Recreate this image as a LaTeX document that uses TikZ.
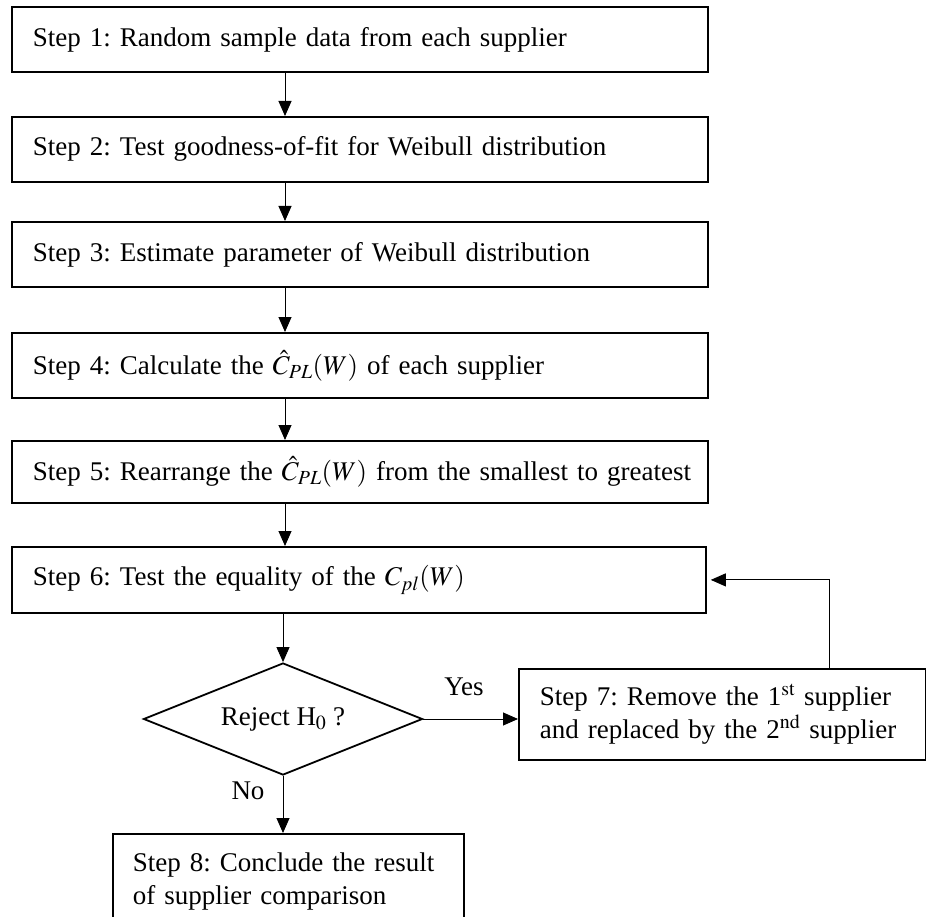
\documentclass[tikz,border=0pt]{standalone}
\usepackage{mathptmx}
\usepackage{fontspec}
\setmainfont{Liberation Serif}
\usetikzlibrary{shapes.geometric,arrows.meta}
\frenchspacing
\begin{document}
\begin{tikzpicture}[x=1pt,y=-1pt,
  every node/.style={font=\fontsize{27pt}{33pt}\selectfont\frenchspacing},
  stepbox/.style={draw,line width=1.8pt,anchor=north west,align=left,
    inner xsep=21pt,inner ysep=0pt,text width=654pt,minimum height=65pt},
  sidebox/.style={draw,line width=1.8pt,anchor=north west,align=left,
    inner xsep=20pt,inner ysep=0pt},
  decision/.style={diamond,draw,line width=1.8pt,inner sep=0pt,aspect=2.49,
    minimum width=279pt,minimum height=112pt},
  arr/.style={draw,line width=0.9pt,-{Triangle[length=15pt,width=13pt]}},
  lbl/.style={inner sep=0pt}]
\useasboundingbox (0,0) rectangle (926,917);
\clip (0,0) rectangle (926,917);
\fill[white] (0,0) rectangle (926,917);
\coordinate (ax) at (285,0);
\coordinate (fx) at (829,0);

\node[stepbox] (s1) at (11,6) {Step 1: Random sample data from each supplier};
\node[stepbox] (s2) at (11,116) {Step 2: Test goodness-of-fit for Weibull distribution};
\node[stepbox] (s3) at (11,221) {Step 3: Estimate parameter of Weibull distribution};
\node[stepbox] (s4) at (11,332) {Step 4: Calculate the $\hat{C}_{PL}(W)$ of each supplier};
\node[stepbox,minimum height=62pt] (s5) at (11,440) {\mbox{Step 5: Rearrange the $\hat{C}_{PL}(W)$ from the smallest to greatest}};
\node[stepbox,text width=652pt,minimum height=66pt] (s6) at (11,546) {Step 6: Test the equality of the $C_{pl}(W)$};

\node[decision] (dia) at (283,719) {Reject H$_0$ ?};

\node[sidebox,inner xsep=21pt,text width=365pt,minimum height=91pt] (s7) at (518,668)
  {\makebox[365pt][s]{Step 7: Remove the 1$^{\mathrm{st}}$ supplier}\\\makebox[365pt][s]{and replaced by the 2$^{\mathrm{nd}}$ supplier}};
\node[sidebox,text width=311pt,minimum height=95pt] (s8) at (112,833)
  {Step 8: Conclude the result\\of supplier comparison};

\node[lbl] (yes) at (464,687) {Yes};
\node[lbl] (no) at (248,791) {No};

\draw[arr] (s1.south -| ax) -- (s2.north -| ax);
\draw[arr] (s2.south -| ax) -- (s3.north -| ax);
\draw[arr] (s3.south -| ax) -- (s4.north -| ax);
\draw[arr] (s4.south -| ax) -- (s5.north -| ax);
\draw[arr] (s5.south -| ax) -- (s6.north -| ax);
\draw[arr] (s6.south -| dia.north) -- (dia.north);
\draw[arr] (dia.east) -- (dia.east -| s7.west);
\draw[arr] (dia.south) -- (dia.south |- s8.north);
\draw[arr,shorten >=4pt] (s7.north -| fx) |- (s6.east);
\end{tikzpicture}
\end{document}
